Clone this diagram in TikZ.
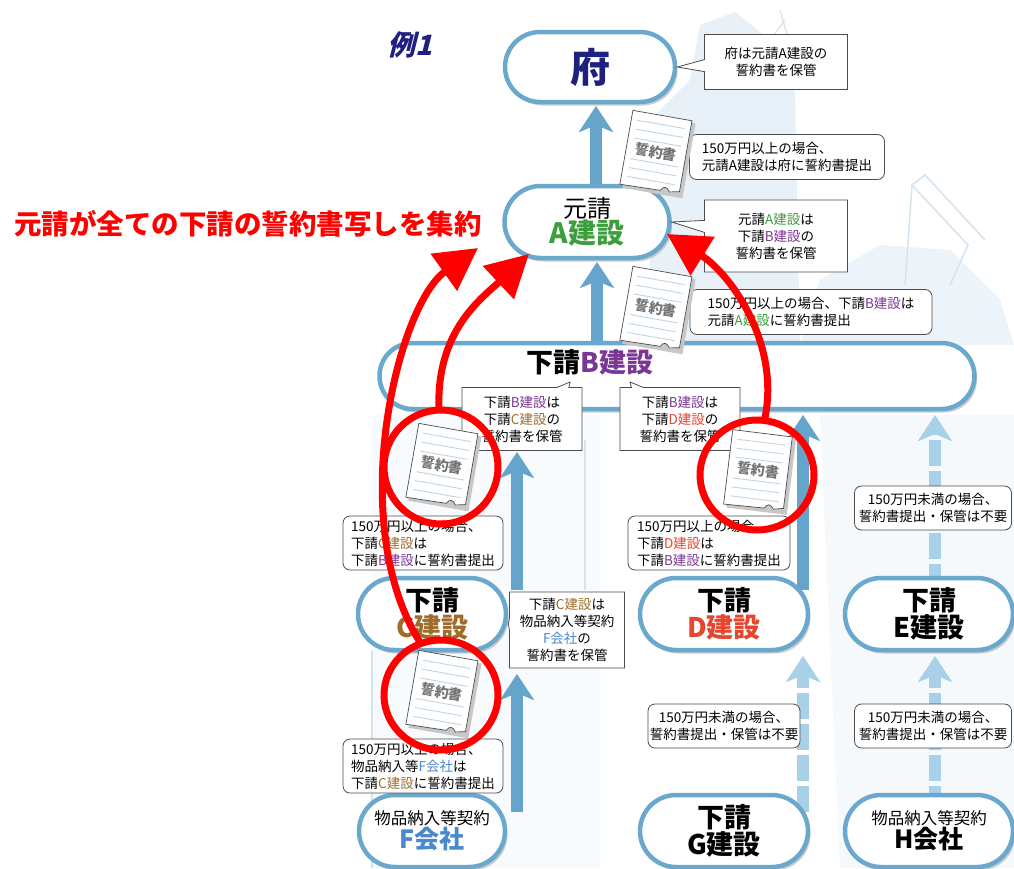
\documentclass[tikz,border=0pt]{standalone}
\usepackage{fontspec}
\setmainfont{Noto Sans CJK JP}
\newfontfamily\exfont[FakeSlant=0.25]{Noto Sans CJK JP}
\usetikzlibrary{arrows.meta,shapes.misc,shapes.callouts,shapes.geometric,shadows}

\definecolor{pillblue}{HTML}{6AA8CD}
\definecolor{arrowblue}{HTML}{65A4CB}
\definecolor{paleblue}{HTML}{A8D0E8}
\definecolor{navy}{HTML}{1F2180}
\definecolor{agreen}{HTML}{3C9E3C}
\definecolor{bpurple}{HTML}{7B3794}
\definecolor{cbrown}{HTML}{A06C2C}
\definecolor{dred}{HTML}{E6452E}
\definecolor{fblue}{HTML}{4A88CC}
\definecolor{bgblue}{HTML}{E8F1F7}
\definecolor{bgline}{HTML}{D3E4EF}
\definecolor{docline}{HTML}{BCD5E7}
\definecolor{redmark}{HTML}{FF0000}

\newcommand\grn[1]{\textcolor{agreen}{#1}}
\newcommand\pur[1]{\textcolor{bpurple}{#1}}
\newcommand\brn[1]{\textcolor{cbrown}{#1}}
\newcommand\orng[1]{\textcolor{dred}{#1}}
\newcommand\blu[1]{\textcolor{fblue}{#1}}

% a tilted pledge sheet: name, x, y, angle
\newcommand\docsheet[4]{%
  \begin{scope}[shift={(#2,#3)}, rotate=#4]
    \fill[black!22] (-27,-35) rectangle (34,41);
    \draw[draw=black!70, fill=white, line width=0.7pt]
      (-30,-37) -- (30,-37) -- (30,35) -- (20,37)
      .. controls (17,32) and (13,32) .. (11,37) -- (-30,38) -- cycle;
    \foreach \yy in {-28,-19,-10,11,20,29}
      \draw[docline, line width=0.9pt] (-24,\yy) -- (24,\yy);
    \node[doctext, rotate=#4] (#1) at (0,0) {誓約書};
  \end{scope}}

\begin{document}
\begin{tikzpicture}[x=1pt, y=-1pt,
  pill/.style={rounded rectangle, draw=pillblue, line width=4.5pt, fill=white,
    inner sep=0pt, align=center,
    drop shadow={shadow xshift=2.5pt, shadow yshift=-3.5pt, fill=black!55, opacity=0.35}},
  bigpill/.style={pill, minimum width=168pt, minimum height=72pt,
    font=\fontsize{27}{29}\selectfont\bfseries},
  note/.style={rectangle callout, draw=black!70, line width=0.8pt, fill=white,
    align=center, inner sep=0pt, callout pointer width=12pt,
    font=\fontsize{13.5}{17}\selectfont},
  rnote/.style={rectangle, rounded corners=7pt, draw=black!70, line width=0.8pt,
    fill=white, align=left, inner sep=0pt, font=\fontsize{13.5}{17}\selectfont},
  bluearrow/.style={draw=arrowblue, line width=12pt,
    -{Stealth[length=26pt, width=34pt, inset=7pt]}},
  palearrow/.style={draw=paleblue, line width=12pt, dash pattern=on 26pt off 5pt,
    -{Stealth[length=26pt, width=34pt, inset=7pt]}},
  doctext/.style={text=black!55, font=\fontsize{14}{14}\selectfont\bfseries, inner sep=1pt},
  redring/.style={ellipse, draw=redmark, line width=7pt, inner sep=0pt},
  redarrow/.style={draw=redmark, line width=7pt, line cap=round,
    -{Triangle[length=42pt, width=44pt]}}
]
\useasboundingbox (0,0) rectangle (1014,868);
\fill[white] (0,0) rectangle (1014,868);

% faint city silhouette in the background
\fill[bgblue] (650,345) -- (650,120) -- (690,80) -- (700,25) -- (735,12) -- (770,40)
  -- (795,90) -- (800,345) -- cycle;
\fill[bgblue!80] (800,345) -- (820,280) -- (880,245) -- (950,250) -- (1000,300)
  -- (1014,345) -- cycle;
\draw[bgline, line width=1.5pt] (905,285) -- (912,185) -- (968,245) -- (950,285)
  (912,185) -- (925,175) -- (985,240);
\draw[bgline, line width=1.2pt] (780,10) -- (790,45) (785,20) -- (770,40);
\fill[bgblue!45] (820,415) -- (1014,415) -- (1014,868) -- (840,868) -- cycle;
\fill[bgblue!30] (372,415) rectangle (600,868);
\draw[bgline, line width=2pt] (585,440) -- (585,590) (372,650) -- (372,868);

% upward flow of the pledges
\coordinate (aFrom) at (596,184);  \coordinate (aTo) at (596,106);
\coordinate (bFrom) at (597,342);  \coordinate (bTo) at (597,262);
\coordinate (cFrom) at (517,590);  \coordinate (cTo) at (517,452);
\coordinate (dFrom) at (803,590);  \coordinate (dTo) at (803,415);
\coordinate (eFrom) at (935,590);  \coordinate (eTo) at (935,415);
\coordinate (fFrom) at (517,812);  \coordinate (fTo) at (517,674);
\coordinate (gFrom) at (803,812);  \coordinate (gTo) at (803,656);
\coordinate (hFrom) at (935,812);  \coordinate (hTo) at (935,656);
\draw[bluearrow] (aFrom) -- (aTo);
\draw[bluearrow] (bFrom) -- (bTo);
\draw[bluearrow] (cFrom) -- (cTo);
\draw[bluearrow] (dFrom) -- (dTo);
\draw[palearrow] (eFrom) -- (eTo);
\draw[bluearrow] (fFrom) -- (fTo);
\draw[palearrow] (gFrom) -- (gTo);
\draw[palearrow] (hFrom) -- (hTo);

% parties
\node[pill, minimum width=170pt, minimum height=70pt] (fu) at (590,67)
  {\fontsize{40}{40}\selectfont\bfseries\color{navy}府};
\node[pill, minimum width=165pt, minimum height=72pt] (A) at (587,222)
  {\fontsize{24}{26}\selectfont 元請\\[-1pt]\fontsize{28}{28}\selectfont\bfseries\grn{A建設}};
\node[pill, minimum width=595pt, minimum height=66pt] (Bbar) at (677,376) {};
\node[inner sep=0pt] (Btext) at (590,362)
  {\fontsize{27}{27}\selectfont\bfseries 下請\pur{B建設}};
\node[bigpill, minimum width=148pt] (C) at (432,614) {下請\\[-2pt]\brn{C建設}};
\node[bigpill] (D) at (724,614) {下請\\[-2pt]\orng{D建設}};
\node[bigpill] (E) at (929,614) {下請\\[-2pt]E建設};
\node[pill, minimum width=146pt, minimum height=72pt] (F) at (432,831)
  {\fontsize{16.5}{20}\selectfont 物品納入等契約\\[0pt]\fontsize{25}{26}\selectfont\bfseries\blu{F会社}};
\node[bigpill] (G) at (724,831) {下請\\[-2pt]G建設};
\node[pill, minimum width=168pt, minimum height=72pt] (H) at (929,831)
  {\fontsize{16.5}{20}\selectfont 物品納入等契約\\[0pt]\fontsize{25}{26}\selectfont\bfseries H会社};

% who keeps which pledge
\coordinate (pB1) at (570,382);
\coordinate (pB2) at (630,382);
\node[note, minimum width=143pt, minimum height=55pt, callout absolute pointer={(fu.east)}]
  (nFu) at (776,62) {府は元請A建設の\\誓約書を保管};
\node[note, minimum width=143pt, minimum height=72pt, callout absolute pointer={(A.east)}]
  (nA) at (776,236) {元請\grn{A建設}は\\下請\pur{B建設}の\\誓約書を保管};
\node[note, minimum width=120pt, minimum height=63pt, callout absolute pointer={(pB1)}]
  (nB1) at (522,419) {下請\pur{B建設}は\\下請\brn{C建設}の\\誓約書を保管};
\node[note, minimum width=120pt, minimum height=63pt, callout absolute pointer={(pB2)}]
  (nB2) at (680,419) {下請\pur{B建設}は\\下請\orng{D建設}の\\誓約書を保管};
\node[note, minimum width=115pt, minimum height=76pt, callout absolute pointer={([yshift=-10pt]C.east)}]
  (nC) at (567,630) {下請\brn{C建設}は\\物品納入等契約\\\blu{F会社}の\\誓約書を保管};

% who submits to whom
\node[rnote, minimum width=195pt, minimum height=45pt] (sA) at (787,157)
  {150万円以上の場合、\\元請A建設は府に誓約書提出};
\node[rnote, minimum width=242pt, minimum height=45pt] (sB) at (811,312)
  {150万円以上の場合、下請\pur{B建設}は\\元請\grn{A建設}に誓約書提出};
\node[rnote, minimum width=160pt, minimum height=54pt] (sC) at (423,543)
  {150万円以上の場合、\\下請\brn{C建設}は\\下請\pur{B建設}に誓約書提出};
\node[rnote, minimum width=162pt, minimum height=54pt] (sD) at (709,543)
  {150万円以上の場合、\\下請\orng{D建設}は\\下請\pur{B建設}に誓約書提出};
\node[rnote, minimum width=157pt, minimum height=44pt, align=center] (sE) at (933,508)
  {150万円未満の場合、\\誓約書提出・保管は不要};
\node[rnote, minimum width=160pt, minimum height=54pt] (sF) at (423,766)
  {150万円以上の場合、\\物品納入等\blu{F会社}は\\下請\brn{C建設}に誓約書提出};
\node[rnote, minimum width=152pt, minimum height=44pt, align=center] (sG) at (724,726)
  {150万円未満の場合、\\誓約書提出・保管は不要};
\node[rnote, minimum width=157pt, minimum height=44pt, align=center] (sH) at (933,726)
  {150万円未満の場合、\\誓約書提出・保管は不要};

% pledge sheets
\docsheet{docA}{656}{152}{-10}
\docsheet{docB}{656}{308}{-10}
\docsheet{docC}{442}{465}{-10}
\docsheet{docD}{758}{470}{-7}
\docsheet{docF}{442}{692}{-10}

\node[font=\exfont\bfseries\fontsize{28}{28}\selectfont, text=navy, inner sep=0pt] (ex) at (410,45) {例1};

% prime contractor collects copies of every pledge
\node[redring, minimum width=114pt, minimum height=114pt] (ringC) at (441,467) {};
\node[redring, minimum width=114pt, minimum height=110pt] (ringD) at (757,475) {};
\node[redring, minimum width=114pt, minimum height=110pt] (ringF) at (441,695) {};
\coordinate (tipF) at (478,248);
\coordinate (tipC) at (529,254);
\coordinate (tipD) at (667,234);
\draw[redarrow] (ringF.112) .. controls (345,520) and (398,305) .. (tipF);
\draw[redarrow] (ringC.92) .. controls (437,330) and (482,298) .. (tipC);
\draw[redarrow] (ringD.82) .. controls (780,340) and (728,272) .. (tipD);

\node[text=redmark, font=\fontsize{27.5}{28}\selectfont\bfseries, inner sep=0pt] (claim)
  at (248,224) {元請が全ての下請の誓約書写しを集約};
\end{tikzpicture}
\end{document}
